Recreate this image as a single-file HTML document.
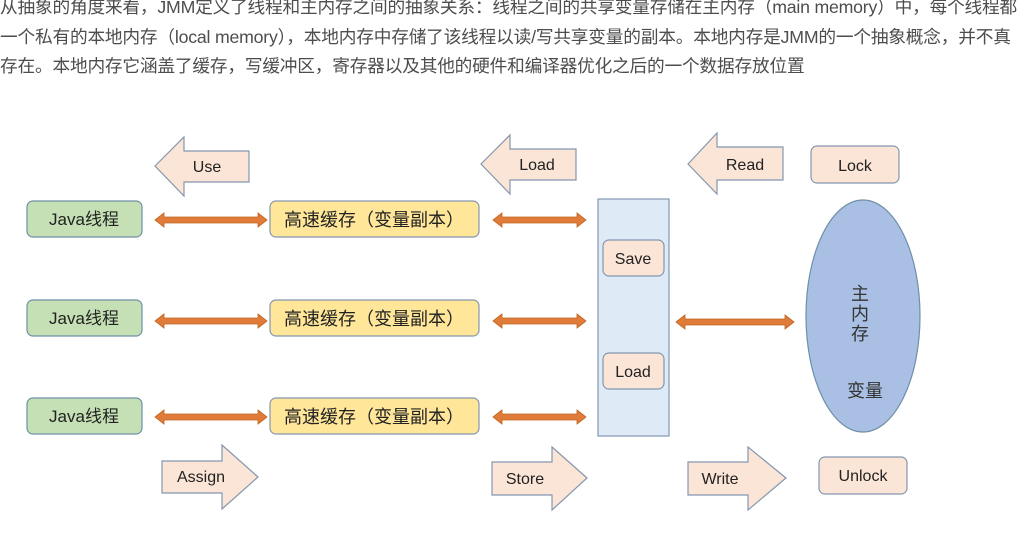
<!DOCTYPE html>
<html><head><meta charset="utf-8"><style>
body{margin:0;background:#fff;width:1017px;height:555px;overflow:hidden;position:relative;font-family:"Liberation Sans","Noto Sans CJK SC",sans-serif}
.t{position:absolute;left:0;font-size:17.7px;color:#4d4d4d;white-space:nowrap;letter-spacing:-0.2px}
svg{position:absolute;left:0;top:0}
</style></head><body>
<div class="t" style="top:-7px">从抽象的角度来看，JMM定义了线程和主内存之间的抽象关系：线程之间的共享变量存储在主内存（main memory）中，每个线程都</div>
<div class="t" style="top:23px">一个私有的本地内存（local memory），本地内存中存储了该线程以读/写共享变量的副本。本地内存是JMM的一个抽象概念，并不真</div>
<div class="t" style="top:52px">存在。本地内存它涵盖了缓存，写缓冲区，寄存器以及其他的硬件和编译器优化之后的一个数据存放位置</div>
<svg width="1017" height="555" font-family="Liberation Sans, Noto Sans CJK SC, sans-serif">
<g fill="#fbe5d6" stroke="#8497b0" stroke-width="1.2">
<polygon points="155,166 184,137 184,151 249,151 249,182 184,182 184,196"/>
<polygon points="481,164 510,135 510,149 576,149 576,180 510,180 510,194"/>
<polygon points="688,164 717,133 717,147 783,147 783,180 717,180 717,194"/>
<polygon points="258,477 222,445 222,461 162,461 162,493 222,493 222,509"/>
<polygon points="587,478 552,447 552,462 492,462 492,495 552,495 552,510"/>
<polygon points="786,478 748,447 748,462 688,462 688,495 748,495 748,510"/>
<rect x="811" y="146" width="88" height="37" rx="6"/>
<rect x="819" y="457" width="88" height="37" rx="6"/>
</g>
<g font-size="16" fill="#222" text-anchor="middle">
<text x="207" y="172">Use</text><text x="537" y="170">Load</text><text x="745" y="170">Read</text>
<text x="855" y="171">Lock</text><text x="201" y="482">Assign</text><text x="525" y="484">Store</text>
<text x="720" y="484">Write</text><text x="863" y="481">Unlock</text>
</g>
<g fill="#c5e0b4" stroke="#6f8fa8" stroke-width="1.2">
<rect x="27" y="201" width="115" height="36" rx="6"/><rect x="27" y="300" width="115" height="36" rx="6"/><rect x="27" y="398" width="115" height="36" rx="6"/>
</g>
<g fill="#ffe699" stroke="#8497b0" stroke-width="1.2">
<rect x="270" y="201" width="209" height="36" rx="6"/><rect x="270" y="300" width="209" height="36" rx="6"/><rect x="270" y="398" width="209" height="36" rx="6"/>
</g>
<g font-size="17" fill="#222" text-anchor="middle">
<text x="84" y="225">Java线程</text><text x="84" y="324">Java线程</text><text x="84" y="422">Java线程</text>
<text x="374" y="226" font-size="18">高速缓存（变量副本）</text><text x="374" y="325" font-size="18">高速缓存（变量副本）</text><text x="374" y="423" font-size="18">高速缓存（变量副本）</text>
</g>
<rect x="598" y="199" width="71" height="237" fill="#deebf7" stroke="#8497b0" stroke-width="1.2"/>
<g fill="#fbe5d6" stroke="#8497b0" stroke-width="1.2">
<rect x="603" y="240" width="61" height="36" rx="6"/><rect x="603" y="353" width="61" height="36" rx="6"/>
</g>
<g font-size="16" fill="#222" text-anchor="middle"><text x="633" y="264">Save</text><text x="633" y="377">Load</text></g>
<ellipse cx="863" cy="316" rx="57" ry="116" fill="#a9bfe3" stroke="#6f8fa8" stroke-width="1.2"/>
<g font-size="18" fill="#333" text-anchor="middle"><text x="860" y="300">主</text><text x="860" y="320">内</text><text x="860" y="340">存</text><text x="865" y="397">变量</text></g>
<g fill="#e07b39" stroke="#c0651f" stroke-width="0.8">
<polygon points="155,220 164,213 164,217 258,217 258,213 267,220 258,227 258,223 164,223 164,227"/>
<polygon points="155,321 164,314 164,318 258,318 258,314 267,321 258,328 258,324 164,324 164,328"/>
<polygon points="155,417 164,410 164,414 258,414 258,410 267,417 258,424 258,420 164,420 164,424"/>
<polygon points="493,220 502,213 502,217 577,217 577,213 586,220 577,227 577,223 502,223 502,227"/>
<polygon points="493,321 502,314 502,318 577,318 577,314 586,321 577,328 577,324 502,324 502,328"/>
<polygon points="493,417 502,410 502,414 577,414 577,410 586,417 577,424 577,420 502,420 502,424"/>
<polygon points="676,322 685,315 685,319 785,319 785,315 794,322 785,329 785,325 685,325 685,329"/>
</g>
</svg>
</body></html>
